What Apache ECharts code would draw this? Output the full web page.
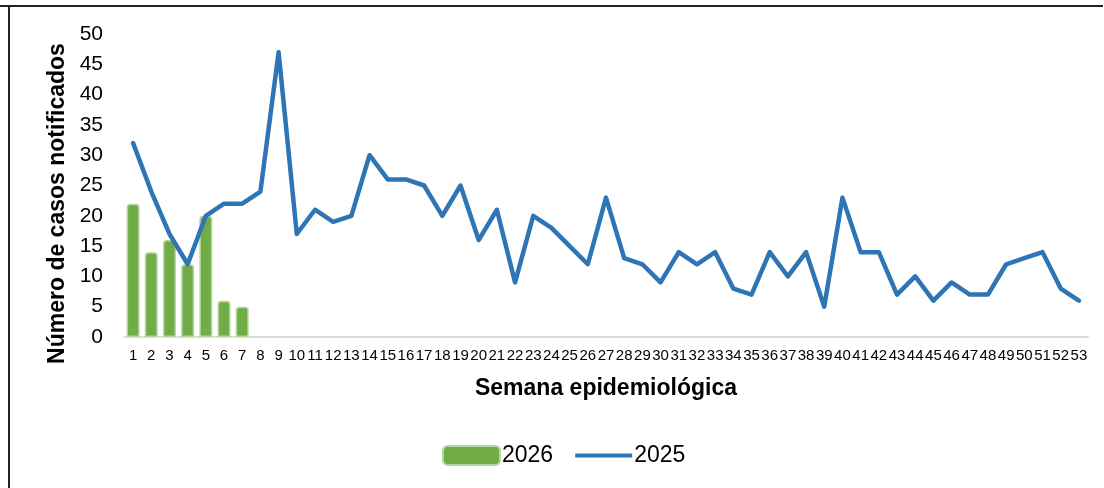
<!DOCTYPE html>
<html>
<head>
<meta charset="utf-8">
<script src="https://cdn.jsdelivr.net/npm/echarts@6/dist/echarts.min.js"></script>
<style>
  html, body { margin: 0; padding: 0; background: #fff; }
  #chart { width: 1104px; height: 488px; }
</style>
</head>
<body>
<div id="chart"></div>
<script>
// semanas epidemiológicas 1..53
const semanas = [];
for (let i = 1; i <= 53; i++) semanas.push(String(i));

const casos2026 = [22, 14, 16, 12, 20, 6, 5];

const casos2025 = [32, 24, 17, 12, 20, 22, 22, 24, 47, 17,
  21, 19, 20, 30, 26, 26, 25, 20, 25, 16,
  21, 9, 20, 18, 15, 12, 23, 13, 12, 9,
  14, 12, 14, 8, 7, 14, 10, 14, 5, 23,
  14, 14, 7, 10, 6, 9, 7, 7, 12, 13,
  14, 8, 6];

const yTicks = [0, 5, 10, 15, 20, 25, 30, 35, 40, 45, 50];

const chart = echarts.init(document.getElementById('chart'));

const option = {
  animation: false,
  textStyle: { fontFamily: 'Liberation Sans, Arial, sans-serif', color: '#000' },
  // marco del gráfico
  graphic: [
    { type: 'line', shape: { x1: 0, y1: 6, x2: 1103, y2: 6 }, style: { stroke: '#222', lineWidth: 2 } },
    { type: 'line', shape: { x1: 9, y1: 6, x2: 9, y2: 488 }, style: { stroke: '#222', lineWidth: 2 } }
  ],
  grid: { left: 124, right: 16, top: 34, bottom: 151 },
  legend: {
    left: 437,
    top: 439,
    itemWidth: 57,
    itemHeight: 19,
    itemGap: 22,
    textStyle: { fontSize: 23, color: '#000', padding: [0, 0, 0, -3] },
    data: [
      { name: '2026', icon: 'roundRect' },
      { name: '2025', icon: 'path://M0,0 L54,0 L54,4 L0,4 Z' }
    ]
  },
  xAxis: {
    type: 'category',
    data: semanas,
    name: 'Semana epidemiológica',
    nameLocation: 'middle',
    nameGap: 40,
    nameTextStyle: { fontSize: 23, fontWeight: 'bold', color: '#000' },
    axisLine: { lineStyle: { color: '#d9dde6', width: 2 } },
    axisTick: { show: false },
    axisLabel: { interval: 0, fontSize: 15, color: '#000', margin: 11 }
  },
  yAxis: {
    type: 'value',
    min: 0,
    max: yTicks[yTicks.length - 1],
    interval: 5,
    name: 'Número de casos notificados',
    nameLocation: 'middle',
    nameGap: 54,
    nameTextStyle: { fontSize: 23, fontWeight: 'bold', color: '#000', padding: [0, 36, 0, 0] },
    axisLine: { show: false },
    axisTick: { show: false },
    splitLine: { show: false },
    axisLabel: { fontSize: 21, color: '#000', margin: 21 }
  },
  series: [
    {
      name: '2026',
      type: 'bar',
      data: casos2026,
      barWidth: 13,
      itemStyle: {
        color: '#70ad47',
        borderColor: '#b5d69c',
        borderWidth: 1.5,
        borderRadius: [3, 3, 0, 0]
      }
    },
    {
      name: '2025',
      type: 'line',
      data: casos2025,
      symbol: 'none',
      lineStyle: { color: '#2e75b6', width: 4.5, cap: 'round', join: 'round' },
      itemStyle: { color: '#2e75b6' }
    }
  ]
};

chart.setOption(option);
</script>
</body>
</html>
